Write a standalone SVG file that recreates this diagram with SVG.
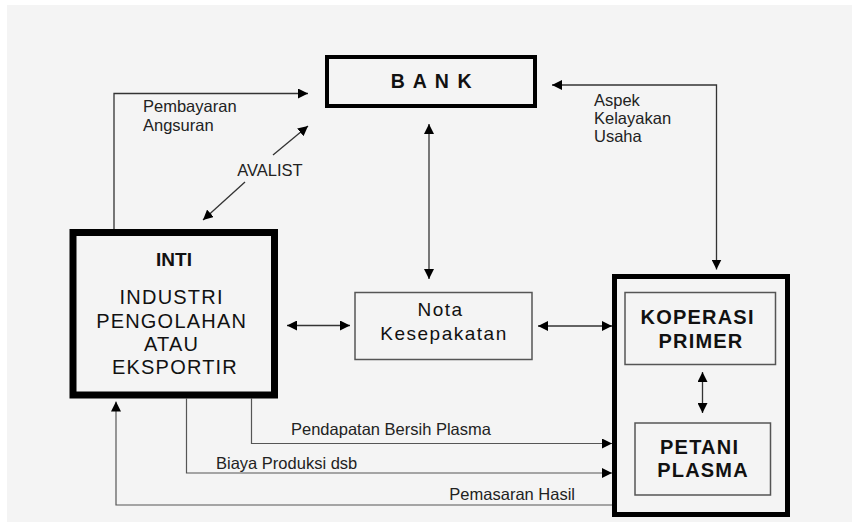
<svg xmlns="http://www.w3.org/2000/svg" width="854" height="522" viewBox="0 0 854 522">
<style>
text{font-family:"Liberation Sans",Arial,sans-serif;fill:#111}
.lbl{font-size:16.5px;fill:#222}
.b{font-weight:bold}
.big{font-size:20px;letter-spacing:1.2px}
.note{font-size:19px;letter-spacing:1.5px}
.ln{fill:none;stroke:#333;stroke-width:1.3}
.lt{fill:none;stroke:#555;stroke-width:1.2}
</style>
<defs>
<marker id="ah" viewBox="0 0 10 10" refX="10" refY="5" markerWidth="10" markerHeight="10" markerUnits="userSpaceOnUse" orient="auto-start-reverse">
<path d="M0,0 L10,5 L0,10 z" fill="#000"/>
</marker>
</defs>
<rect width="854" height="522" fill="#fff"/>
<rect x="7" y="5" width="845" height="517" fill="#f4f4f4"/>

<g id="bank">
<rect x="327" y="57" width="208" height="49" fill="none" stroke="#000" stroke-width="4"/>
<text x="432" y="88" text-anchor="middle" class="b" font-size="19.5" letter-spacing="1.6">B A N K</text>
</g>

<g id="inti">
<rect x="73" y="232.5" width="201.5" height="162.5" fill="none" stroke="#000" stroke-width="7"/>
<text x="174" y="266" text-anchor="middle" class="b" font-size="19">INTI</text>
<text text-anchor="middle" class="big">
<tspan x="175" y="304">INDUSTRI</tspan>
<tspan x="175" y="327.5">PENGOLAHAN</tspan>
<tspan x="175" y="350.5">ATAU</tspan>
<tspan x="175" y="374">EKSPORTIR</tspan>
</text>
</g>

<g id="nota">
<rect x="355" y="292.5" width="177" height="67" fill="none" stroke="#555" stroke-width="1.5"/>
<text text-anchor="middle" class="note">
<tspan x="444" y="316">Nota</tspan>
<tspan x="444" y="340">Kesepakatan</tspan>
</text>
</g>

<g id="plasma-group">
<rect x="614.5" y="276.5" width="173" height="238" fill="none" stroke="#000" stroke-width="5"/>
</g>

<g id="koperasi">
<rect x="625" y="292.5" width="150.5" height="72" fill="none" stroke="#555" stroke-width="1.5"/>
<text text-anchor="middle" class="b" font-size="20" letter-spacing="1.2">
<tspan x="701" y="324">KOPERASI</tspan>
<tspan x="701" y="348">PRIMER</tspan>
</text>
</g>

<g id="petani">
<rect x="635" y="423" width="135.5" height="72" fill="none" stroke="#555" stroke-width="1.5"/>
<text text-anchor="middle" class="b" font-size="20" letter-spacing="1.2">
<tspan x="703" y="453.5">PETANI</tspan>
<tspan x="703" y="477">PLASMA</tspan>
</text>
</g>

<g id="connectors">
<polyline class="ln" points="114,229 114,93.5 308,93.5" marker-end="url(#ah)"/>
<line class="ln" x1="273" y1="155" x2="308" y2="126" marker-end="url(#ah)"/>
<line class="ln" x1="245" y1="182" x2="203" y2="220" marker-end="url(#ah)"/>
<line class="ln" x1="429" y1="124" x2="429" y2="279" marker-start="url(#ah)" marker-end="url(#ah)"/>
<polyline class="ln" points="552,85 716.5,85 716.5,269.5" marker-start="url(#ah)" marker-end="url(#ah)"/>
<line class="ln" x1="287" y1="325.5" x2="350" y2="325.5" marker-start="url(#ah)" marker-end="url(#ah)"/>
<line class="ln" x1="538" y1="326" x2="612" y2="326" marker-start="url(#ah)" marker-end="url(#ah)"/>
<line class="ln" x1="702.5" y1="372" x2="702.5" y2="413" marker-start="url(#ah)" marker-end="url(#ah)"/>
<polyline class="lt" points="251.5,398 251.5,443.5 612,443.5" marker-end="url(#ah)"/>
<polyline class="lt" points="186.5,398 186.5,473 612,473" marker-end="url(#ah)"/>
<polyline class="lt" points="612,505 116,505 116,401.5" marker-end="url(#ah)"/>

<text class="lbl">
<tspan x="143" y="112">Pembayaran</tspan>
<tspan x="143" y="131">Angsuran</tspan>
</text>
<text class="lbl" x="270" y="176" text-anchor="middle">AVALIST</text>
<text class="lbl">
<tspan x="594" y="106">Aspek</tspan>
<tspan x="594" y="124">Kelayakan</tspan>
<tspan x="594" y="142">Usaha</tspan>
</text>
<text class="lbl" x="291" y="435">Pendapatan Bersih Plasma</text>
<text class="lbl" x="216" y="468.5">Biaya Produksi dsb</text>
<text class="lbl" x="575" y="499.5" text-anchor="end">Pemasaran Hasil</text>
</g>
</svg>
